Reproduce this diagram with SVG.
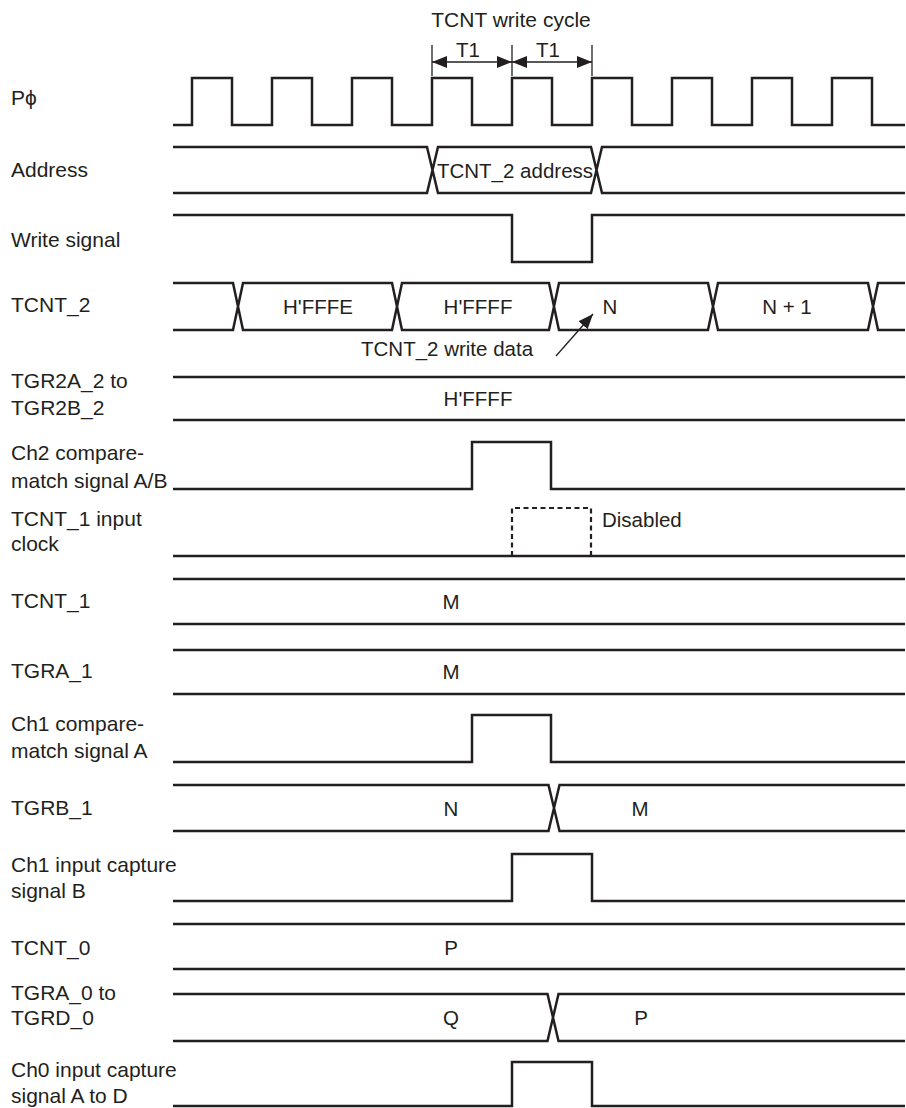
<svg xmlns="http://www.w3.org/2000/svg" width="906" height="1108" viewBox="0 0 906 1108">
<style>
text{font-family:"Liberation Sans",Arial,sans-serif;font-size:21px;fill:#231f20}
.v{font-size:20.5px;text-anchor:middle}
.w{fill:none;stroke:#231f20;stroke-width:2.5;stroke-linejoin:miter}
.d{fill:none;stroke:#231f20;stroke-width:2.2;stroke-dasharray:5,3.5}
.t{fill:none;stroke:#231f20;stroke-width:1.3}
</style>
<defs>
<marker id="ah" viewBox="0 0 15 12" refX="15" refY="6" markerWidth="15" markerHeight="12" markerUnits="userSpaceOnUse" orient="auto-start-reverse">
<path d="M0,0 L15,6 L0,12 Z" fill="#231f20"/>
</marker>
</defs>
<rect width="906" height="1108" fill="#fff"/>

<g id="labels">
<text x="11" y="105">Pϕ</text>
<text x="11" y="177">Address</text>
<text x="11" y="247">Write signal</text>
<text x="11" y="312">TCNT_2</text>
<text x="11" y="388">TGR2A_2 to</text>
<text x="11" y="415">TGR2B_2</text>
<text x="11" y="460">Ch2 compare-</text>
<text x="11" y="488">match signal A/B</text>
<text x="11" y="526">TCNT_1 input</text>
<text x="11" y="551">clock</text>
<text x="11" y="608">TCNT_1</text>
<text x="11" y="678">TGRA_1</text>
<text x="11" y="731">Ch1 compare-</text>
<text x="11" y="758">match signal A</text>
<text x="11" y="815">TGRB_1</text>
<text x="11" y="872">Ch1 input capture</text>
<text x="11" y="898">signal B</text>
<text x="11" y="955">TCNT_0</text>
<text x="11" y="1000">TGRA_0 to</text>
<text x="11" y="1025">TGRD_0</text>
<text x="11" y="1077">Ch0 input capture</text>
<text x="11" y="1103">signal A to D</text>
</g>

<g id="write-cycle">
<text x="511" y="27" style="text-anchor:middle;font-size:21px">TCNT write cycle</text>
<text x="468" y="57" class="v">T1</text>
<text x="548" y="57" class="v">T1</text>
<path class="t" d="M432,45 V76 M512,45 V76 M592,45 V76"/>
</g>

<g id="connectors">
<line x1="432" y1="62" x2="512" y2="62" class="t" marker-start="url(#ah)" marker-end="url(#ah)"/>
<line x1="512" y1="62" x2="592" y2="62" class="t" marker-start="url(#ah)" marker-end="url(#ah)"/>
<line x1="556" y1="356" x2="593" y2="314" class="t" marker-end="url(#ah)"/>
</g>

<g id="clock">
<path class="w" d="M173,125 H192 V78 H232 V125 H272 V78 H312 V125 H352 V78 H392 V125 H432 V78 H472 V125 H512 V78 H552 V125 H592 V78 H632 V125 H672 V78 H712 V125 H752 V78 H792 V125 H832 V78 H872 V125 H905"/>
</g>

<g id="address">
<path class="w" d="M173,147 H427 L438,193 H591 L602,147 H905 M173,193 H427 L438,147 H591 L602,193 H905"/>
<text x="515" y="178" class="v">TCNT_2 address</text>
</g>

<g id="write-signal">
<path class="w" d="M173,215 H512 V262 H592 V215 H905"/>
</g>

<g id="tcnt2">
<path class="w" d="M173,283 H233 L243,330 H392 L402,283 H549 L559,330 H708 L718,283 H868 L878,330 H905 M173,330 H233 L243,283 H392 L402,330 H549 L559,283 H708 L718,330 H868 L878,283 H905"/>
<text x="318" y="314" class="v">H'FFFE</text>
<text x="478" y="314" class="v">H'FFFF</text>
<text x="610" y="314" class="v">N</text>
<text x="787" y="314" class="v">N + 1</text>
<text x="361" y="356" style="font-size:20.5px">TCNT_2 write data</text>
</g>

<g id="tgr2">
<path class="w" d="M173,377 H905 M173,420 H905"/>
<text x="478" y="406" class="v">H'FFFF</text>
</g>

<g id="ch2-compare">
<path class="w" d="M173,489 H472 V442 H551 V489 H905"/>
</g>

<g id="tcnt1-clock">
<path class="w" d="M173,556 H905"/>
<path class="d" d="M512,556 V508 H591 V556"/>
<text x="602" y="527" style="font-size:20.5px">Disabled</text>
</g>

<g id="tcnt1">
<path class="w" d="M173,579 H905 M173,624 H905"/>
<text x="451" y="609" class="v">M</text>
</g>

<g id="tgra1">
<path class="w" d="M173,650 H905 M173,694 H905"/>
<text x="451" y="679" class="v">M</text>
</g>

<g id="ch1-compare">
<path class="w" d="M173,762 H472 V715 H551 V762 H905"/>
</g>

<g id="tgrb1">
<path class="w" d="M173,785 H548.5 L559.5,831 H905 M173,831 H548.5 L559.5,785 H905"/>
<text x="451" y="816" class="v">N</text>
<text x="640" y="816" class="v">M</text>
</g>

<g id="ch1-capture">
<path class="w" d="M173,901 H512 V854 H592 V901 H905"/>
</g>

<g id="tcnt0">
<path class="w" d="M173,924 H905 M173,969 H905"/>
<text x="451" y="955" class="v">P</text>
</g>

<g id="tgra0">
<path class="w" d="M173,994 H547.5 L558.5,1041 H905 M173,1041 H547.5 L558.5,994 H905"/>
<text x="451" y="1025" class="v">Q</text>
<text x="641" y="1025" class="v">P</text>
</g>

<g id="ch0-capture">
<path class="w" d="M173,1106 H512 V1062 H592 V1106 H905"/>
</g>
</svg>
